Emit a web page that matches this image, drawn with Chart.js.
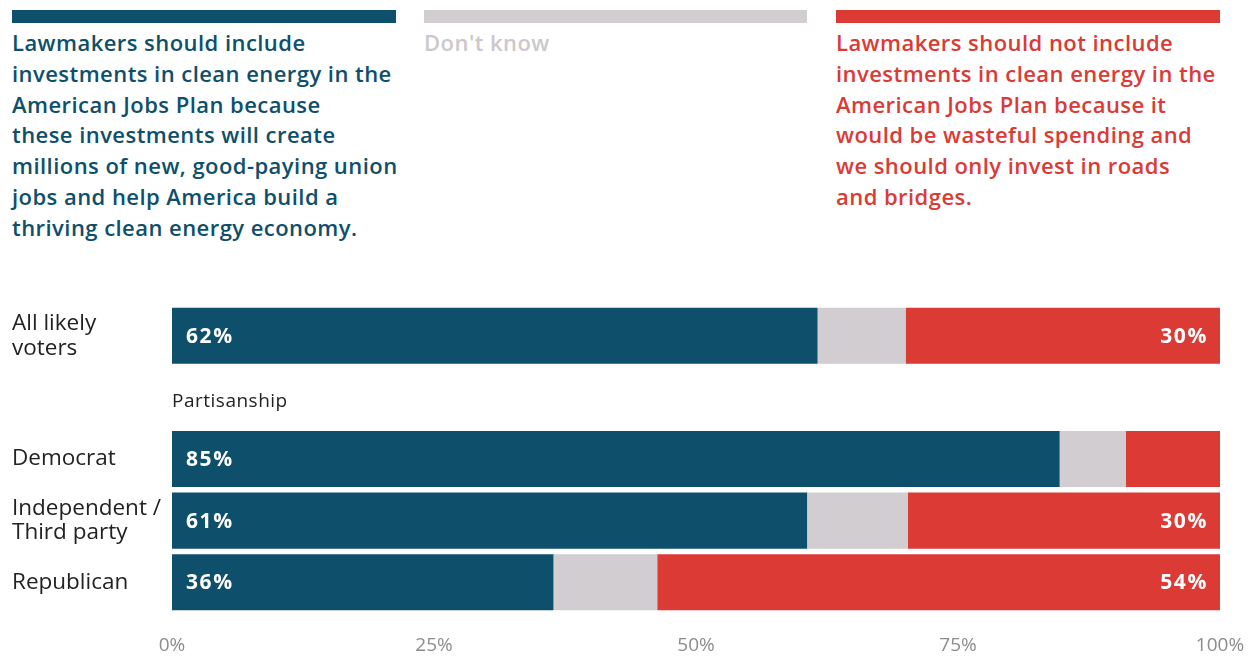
<!DOCTYPE html>
<html>
<head>
<meta charset="utf-8">
<script src="https://cdn.jsdelivr.net/npm/chart.js@4"></script>
<style>
  html, body { margin: 0; padding: 0; background: #ffffff; }
  body { width: 1257px; height: 656px; position: relative; overflow: hidden; font-family: "Open Sans", Lato, sans-serif; }
  .leg { position: absolute; top: 10px; }
  .leg .bar { height: 13px; width: 100%; }
  .leg .txt { margin-top: 4px; font-weight: 600; font-size: 22px; line-height: 30.8px; letter-spacing: 0.45px; white-space: nowrap; }
  #c { position: absolute; left: 0; top: 0; }
</style>
</head>
<body>
<div class="leg" style="left:12px;width:384px;">
  <div class="bar" style="background:#0e4f6b"></div>
  <div class="txt" style="color:#0e4f6b">Lawmakers should include<br>investments in clean energy in the<br>American Jobs Plan because<br>these investments will create<br>millions of new, good-paying union<br>jobs and help America build a<br>thriving clean energy economy.</div>
</div>
<div class="leg" style="left:424px;width:383px;">
  <div class="bar" style="background:#d1cdd0"></div>
  <div class="txt" style="color:#ccc8cb">Don't know</div>
</div>
<div class="leg" style="left:836px;width:384px;">
  <div class="bar" style="background:#db3a35"></div>
  <div class="txt" style="color:#db3a35">Lawmakers should not include<br>investments in clean energy in the<br>American Jobs Plan because it<br>would be wasteful spending and<br>we should only invest in roads<br>and bridges.</div>
</div>
<canvas id="c" width="1257" height="656"></canvas>
<script>
const categories = [["All likely", "voters"], "", "Democrat", ["Independent /", "Third party"], "Republican"];
const sectionLabel = "Partisanship";
const seriesNames = ["Should include clean energy", "Don't know", "Should not include clean energy"];
const includeVals = [61.6, null, 84.7, 60.6, 36.4];
const dontKnowVals = [8.4, null, 6.3, 9.6, 9.9];
const notIncludeVals = [30.0, null, 9.0, 29.8, 53.7];
const tickValues = [0, 25, 50, 75, 100];

const BLUE = "#0e4f6b", GRAY = "#d1cdd0", RED = "#db3a35";
const FONT = "'Open Sans', Lato, sans-serif";

const labelPlugin = {
  id: "barLabels",
  afterDatasetsDraw(chart) {
    const ctx = chart.ctx;
    ctx.save();
    ctx.font = "700 21px " + FONT;
    ctx.letterSpacing = "1.6px";
    ctx.fillStyle = "#ffffff";
    ctx.textBaseline = "middle";
    const m0 = chart.getDatasetMeta(0);
    m0.data.forEach((bar, i) => {
      const v = includeVals[i];
      if (v == null) return;
      ctx.textAlign = "left";
      ctx.fillText(Math.round(v) + "%", bar.base + 14, bar.y + 1);
    });
    const m2 = chart.getDatasetMeta(2);
    m2.data.forEach((bar, i) => {
      const v = notIncludeVals[i];
      if (v == null || v < 20) return;
      ctx.textAlign = "right";
      ctx.fillText(Math.round(v) + "%", bar.x - 12, bar.y + 1);
    });
    const y = chart.scales.y.getPixelForValue(1);
    ctx.font = "400 19px " + FONT;
    ctx.letterSpacing = "0.5px";
    ctx.fillStyle = "#222222";
    ctx.textAlign = "left";
    ctx.fillText(sectionLabel, chart.chartArea.left, y + 4);
    ctx.restore();
  }
};

new Chart(document.getElementById("c"), {
  type: "bar",
  data: {
    labels: categories,
    datasets: [
      { label: seriesNames[0], data: includeVals, backgroundColor: BLUE },
      { label: seriesNames[1], data: dontKnowVals, backgroundColor: GRAY },
      { label: seriesNames[2], data: notIncludeVals, backgroundColor: RED }
    ]
  },
  options: {
    indexAxis: "y",
    responsive: false,
    animation: false,
    devicePixelRatio: 1,
    layout: { padding: { top: 305, left: 12, right: 37, bottom: 0 } },
    datasets: { bar: { categoryPercentage: 1, barPercentage: 0.91, borderWidth: 0 } },
    plugins: { legend: { display: false }, tooltip: { enabled: false } },
    scales: {
      x: {
        stacked: true,
        min: 0, max: 100,
        afterBuildTicks(axis) { axis.ticks = tickValues.map(v => ({ value: v })); },
        afterFit(axis) { axis.paddingLeft = 0; axis.paddingRight = 0; axis.paddingTop = 0; axis.paddingBottom = 0; axis.height = 43; },
        grid: { display: false, drawTicks: false },
        border: { display: false },
        ticks: {
          padding: 21,
          maxRotation: 0,
          color: "#8c8c8c",
          font: { family: FONT, size: 19 },
          callback: v => v + "%"
        }
      },
      y: {
        stacked: true,
        grid: { display: false, drawTicks: false },
        border: { display: false },
        afterFit(axis) { axis.width = 160; axis.paddingTop = 0; axis.paddingBottom = 0; },
        ticks: {
          crossAlign: "far",
          color: "#222222",
          font: { family: FONT, size: 22.5, lineHeight: 1.1 }
        }
      }
    }
  },
  plugins: [labelPlugin]
});
</script>
</body>
</html>
